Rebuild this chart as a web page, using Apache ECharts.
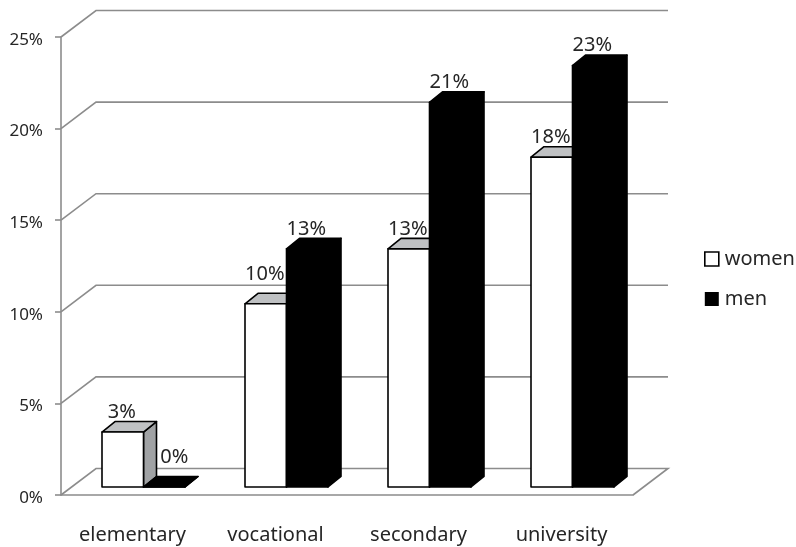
<!DOCTYPE html>
<html>
<head>
<meta charset="utf-8">
<style>html,body{margin:0;padding:0;background:#fff}#chart{width:796px;height:547px}</style>
<script src="https://cdn.jsdelivr.net/npm/echarts@6/dist/echarts.min.js"></script>
</head>
<body>
<div id="chart"></div>
<script>
// Share of respondents by education level and gender
const categories = ['elementary', 'vocational', 'secondary', 'university'];
const women = [3, 10, 13, 18];
const men = [0, 13, 21, 23];
const yTicks = [0, 5, 10, 15, 20, 25];

// Oblique projection used for the walls, floor and box sides
const FONT = '"Noto Sans", sans-serif';
const TEXT = '#262626';
const WALL = { dx: 35, dy: -26.5 };
const BAR_OFFSET = { dx: 11, dy: -8 };
const BAR_DEPTH = { dx: 13, dy: -10.5 };
const BAR_WIDTH = 41.5;

// Two value labels sit apart from the others to clear neighbouring boxes
const labelLift = { 'men|0': [11, 10], 'women|1': [0, 10] };

function wallRenderer(params, api) {
  const rect = params.coordSys;
  const y = api.coord([0, api.value(1)])[1];
  const lineStyle = { stroke: '#8c8c8c', lineWidth: 1.6, fill: null };
  const x0 = rect.x, x1 = rect.x + rect.width;
  const points = [[x0, y], [x0 + WALL.dx, y + WALL.dy], [x1 + WALL.dx, y + WALL.dy]];
  if (api.value(1) === 0) points.push([x1, y]);
  return { type: 'polyline', shape: { points }, style: lineStyle, silent: true };
}

function boxRenderer(name, slot, faces) {
  return function (params, api) {
    const i = api.value(0);
    const v = api.value(1);
    const center = api.coord([i, 0])[0];
    const baseY = api.coord([i, 0])[1] + BAR_OFFSET.dy;
    const topY = api.coord([i, v])[1] + BAR_OFFSET.dy;
    const left = center + BAR_OFFSET.dx + (slot - 1) * BAR_WIDTH;
    const right = left + BAR_WIDTH;
    const d = BAR_DEPTH;
    const lift = labelLift[name + '|' + i] || [0, 0];
    const edge = { stroke: '#000', lineWidth: 1.6, lineJoin: 'round' };
    return {
      type: 'group',
      children: [
        { type: 'polygon',
          shape: { points: [[right, topY], [right + d.dx, topY + d.dy], [right + d.dx, baseY + d.dy], [right, baseY]] },
          style: Object.assign({ fill: faces.side }, edge) },
        { type: 'polygon',
          shape: { points: [[left, topY], [left + d.dx, topY + d.dy], [right + d.dx, topY + d.dy], [right, topY]] },
          style: Object.assign({ fill: faces.top }, edge) },
        { type: 'rect',
          shape: { x: left, y: topY, width: BAR_WIDTH, height: baseY - topY },
          style: Object.assign({ fill: faces.front }, edge) },
        { type: 'text',
          style: {
            text: v + '%',
            x: (left + right) / 2 - 1 + lift[0],
            y: topY + d.dy + 0.5 - lift[1],
            align: 'center', verticalAlign: 'bottom',
            font: '20px ' + FONT, fill: TEXT
          } }
      ]
    };
  };
}

function boxSeries(name, values, slot, faces) {
  return {
    name,
    type: 'custom',
    renderItem: boxRenderer(name, slot, faces),
    encode: { x: 0, y: 1 },
    data: values.map((v, i) => [i, v]),
    itemStyle: { color: faces.front },
    z: 3 + slot
  };
}

const chart = echarts.init(document.getElementById('chart'), null, { renderer: 'canvas' });
chart.setOption({
  animation: false,
  backgroundColor: '#fff',
  grid: { left: 61, right: 163, top: 37, bottom: 52 },
  legend: {
    orient: 'vertical', left: 699, top: 244, itemGap: 20,
    itemWidth: 14, itemHeight: 14,
    textStyle: { fontFamily: FONT, fontSize: 20, color: TEXT, padding: [0, 0, 0, 1] },
    data: [
      { name: 'women', icon: 'rect', itemStyle: { color: '#fff', borderColor: '#000', borderWidth: 1.6 } },
      { name: 'men', icon: 'rect', itemStyle: { color: '#000', borderColor: '#000', borderWidth: 0 } }
    ]
  },
  xAxis: {
    type: 'category',
    data: categories,
    axisLine: { lineStyle: { color: '#8c8c8c', width: 1.6 } },
    axisTick: { length: 8, lineStyle: { color: '#8c8c8c', width: 1.6 } },
    axisLabel: { margin: 30, fontFamily: FONT, fontSize: 20, color: TEXT },
    splitLine: { show: false }
  },
  yAxis: {
    type: 'value', min: 0, max: 25, interval: 5,
    axisLine: { show: true, lineStyle: { color: '#8c8c8c', width: 1.6 } },
    axisTick: { show: true, length: 6, lineStyle: { color: '#8c8c8c', width: 1.6 } },
    axisLabel: {
      margin: 18,
      formatter: '{pct|{value}%}',
      rich: { pct: { fontFamily: FONT, fontSize: 17, color: TEXT, padding: [6, 0, 0, 0] } }
    },
    splitLine: { show: false }
  },
  series: [
    {
      type: 'custom',
      renderItem: wallRenderer,
      encode: { x: 0, y: 1 },
      data: yTicks.map(t => [0, t]),
      silent: true,
      z: 1
    },
    boxSeries('women', women, 0, { front: '#fff', top: '#bfc1c3', side: '#a0a2a4' }),
    boxSeries('men', men, 1, { front: '#000', top: '#000', side: '#000' })
  ]
});
</script>
</body>
</html>
